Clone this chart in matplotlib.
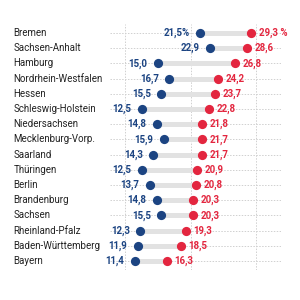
import matplotlib
matplotlib.use('Agg')
import matplotlib.pyplot as plt
import matplotlib.transforms as mtransforms

states = ['Bremen', 'Sachsen-Anhalt', 'Hamburg', 'Nordrhein-Westfalen', 'Hessen',
          'Schleswig-Holstein', 'Niedersachsen', 'Mecklenburg-Vorp.', 'Saarland',
          'Thüringen', 'Berlin', 'Brandenburg', 'Sachsen', 'Rheinland-Pfalz',
          'Baden-Württemberg', 'Bayern']
low = [21.5, 22.9, 15.0, 16.7, 15.5, 12.5, 14.8, 15.9, 14.3, 12.5, 13.7, 14.8,
       15.5, 12.3, 11.9, 11.4]
high = [29.3, 28.6, 26.8, 24.2, 23.7, 22.8, 21.8, 21.7, 21.7, 20.9, 20.8, 20.3,
        20.3, 19.3, 18.5, 16.3]

blue = '#1c4482'
red = '#e3263f'
font = ['Roboto', 'DejaVu Sans']

fig = plt.figure(figsize=(3, 3), dpi=100)
ax = fig.add_axes([0.367, 0.10, 0.57, 0.82])

for i in range(len(states)):
    ax.plot([low[i], high[i]], [i, i], color='#e2e2e2', lw=3.6,
            solid_capstyle='butt', zorder=2)
ax.scatter(low, range(len(states)), s=44, color=blue, zorder=3, lw=0)
ax.scatter(high, range(len(states)), s=44, color=red, zorder=3, lw=0)

def fmt(v):
    return f'{v:.1f}'.replace('.', ',')

for i in range(len(states)):
    lt = fmt(low[i]) + ('%' if i == 0 else '')
    ht = fmt(high[i]) + (' %' if i == 0 else '')
    ax.annotate(lt, (low[i], i), xytext=(-7.5, 0), textcoords='offset points',
                ha='right', va='center', color=blue, fontsize=7,
                fontweight='bold', family=font)
    ax.annotate(ht, (high[i], i), xytext=(5.5, 0), textcoords='offset points',
                ha='left', va='center', color=red, fontsize=7,
                fontweight='bold', family=font)

trans = mtransforms.blended_transform_factory(fig.transFigure, ax.transData)
for i, s in enumerate(states):
    ax.text(0.045, i, s, transform=trans, ha='left', va='center',
            fontsize=7, color='#222222', family=font)

ax.set_xlim(7.66, 33.85)
ax.set_ylim(15.6, -0.6)
for x in [10, 20, 30]:
    ax.axvline(x, color='#d0d0d0', lw=0.7, ls=(0, (1.5, 1.5)), zorder=1)
for i in range(len(states)):
    ax.axhline(i, color='#d0d0d0', lw=0.7, ls=(0, (1.5, 1.5)), zorder=1)
ax.set_xticks([])
ax.set_yticks([])
for sp in ax.spines.values():
    sp.set_visible(False)

fig.savefig('out.png', dpi=100)
